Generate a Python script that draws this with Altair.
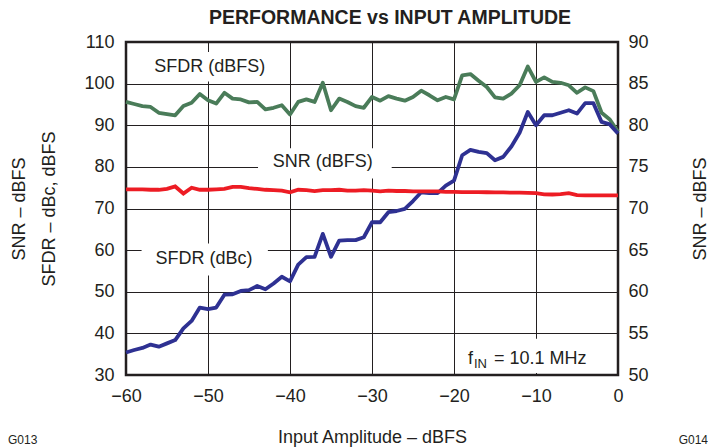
import altair as alt
import pandas as pd

# ---------------- data ----------------
amplitude = list(range(-60, 1))  # input amplitude, dBFS (1 dB steps)

sfdr_dbfs = [95.6, 95.1, 94.6, 94.4, 93.0, 92.7, 92.4, 94.6, 95.4, 97.5,
             96.0, 95.2, 97.8, 96.4, 96.2, 95.5, 95.6, 93.8, 94.2, 94.8,
             92.6, 95.6, 96.2, 95.6, 100.2, 93.6, 96.4, 95.6, 94.6, 94.2,
             96.8, 95.9, 97.0, 96.4, 95.9, 96.8, 98.3, 97.2, 96.0, 96.8,
             96.2, 102.0, 102.3, 100.7, 99.2, 96.7, 96.4, 97.6, 99.6, 104.1,
             100.4, 101.5, 100.4, 100.2, 99.6, 97.8, 99.1, 98.2, 93.0, 91.4,
             88.4]

sfdr_dbc = [35.4, 36.0, 36.5, 37.3, 36.8, 37.6, 38.4, 41.2, 43.0, 46.2,
            45.8, 46.2, 49.3, 49.4, 50.2, 50.4, 51.4, 50.6, 52.0, 53.6,
            52.5, 56.5, 58.3, 58.4, 63.9, 58.4, 62.3, 62.4, 62.4, 63.1,
            66.7, 66.7, 69.1, 69.4, 69.9, 71.8, 73.9, 73.7, 73.7, 75.5,
            76.7, 82.8, 84.1, 83.6, 83.3, 81.6, 82.4, 84.9, 88.2, 93.2,
            90.0, 92.4, 92.4, 93.0, 93.6, 92.8, 95.3, 95.3, 90.8, 90.2,
            88.0]

snr_dbfs = [72.3, 72.3, 72.3, 72.25, 72.25, 72.35, 72.65, 71.8, 72.5, 72.25,
            72.25, 72.3, 72.35, 72.6, 72.6, 72.45, 72.35, 72.25, 72.2, 72.15,
            71.95, 72.25, 72.2, 72.1, 72.2, 72.2, 72.25, 72.15, 72.15, 72.2,
            72.15, 72.05, 72.15, 72.1, 72.1, 72.05, 72.05, 72.05, 72.05, 72.0,
            72.0, 71.97, 71.97, 71.97, 71.95, 71.93, 71.93, 71.9, 71.9, 71.88,
            71.85, 71.7, 71.68, 71.72, 71.85, 71.6, 71.57, 71.57, 71.57, 71.57,
            71.57]

x_ticks = [-60, -50, -40, -30, -20, -10, 0]
left_ticks = [30, 40, 50, 60, 70, 80, 90, 100, 110]
right_ticks = [50, 55, 60, 65, 70, 75, 80, 85, 90]

# in-plot labels (left-axis units) and their white backing boxes
label_text = ["SFDR (dBFS)", "SNR (dBFS)", "SFDR (dBc)"]
label_x = [-49.8, -36.0, -50.5]
label_y = [104.1, 81.2, 57.8]
box_x1 = [-58.3, -43.9, -58.1, -19.3]
box_x2 = [-41.0, -27.6, -42.7, -2.2]
box_y1 = [107.6, 84.5, 61.6, 38.7]
box_y2 = [100.5, 77.2, 53.9, 30.5]
fin_x = [-18.3]
fin_y = [32.65]
figure_codes = ["G013", "G014"]

INK = "#231f20"
FONT = "Liberation Sans"

# ---------------- tables ----------------
lines_df = pd.DataFrame({
    "amp": amplitude * 2,
    "v": sfdr_dbfs + sfdr_dbc,
    "series": ["SFDR (dBFS)"] * len(amplitude) + ["SFDR (dBc)"] * len(amplitude),
})
snr_df = pd.DataFrame({"amp": amplitude, "snr": snr_dbfs})
labels_df = pd.DataFrame({"amp": label_x, "v": label_y, "t": label_text})
boxes_df = pd.DataFrame({"amp": box_x1, "amp2": box_x2, "v": box_y1, "v2": box_y2})
fin_df = pd.DataFrame({"amp": fin_x, "v": fin_y})

x_axis = alt.Axis(values=x_ticks, grid=True, ticks=False, domain=False,
                  labelPadding=12, labelFlush=False, title="Input Amplitude – dBFS",
                  titleX=246, titleY=62, titleBaseline="middle")
x_scale = alt.Scale(domain=[-60, 0], nice=False, zero=False)
X = alt.X("amp:Q", scale=x_scale, axis=x_axis)

left_axis = alt.Axis(values=left_ticks, grid=True, ticks=False, domain=False,
                     labelPadding=12, labelFlush=False,
                     title=["SNR – dBFS", "SFDR – dBc, dBFS"],
                     titleAngle=270, titleBaseline="middle", titleLineHeight=30,
                     titleX=-107, titleY=166.5)
left_scale = alt.Scale(domain=[30, 110], nice=False, zero=False)
Y = alt.Y("v:Q", scale=left_scale, axis=left_axis)

right_axis = alt.Axis(values=right_ticks, grid=False, ticks=False, domain=False,
                      labelPadding=10, labelFlush=False, orient="right",
                      title="SNR – dBFS",
                      titleAngle=270, titleBaseline="middle",
                      titleX=82, titleY=166.5)
right_scale = alt.Scale(domain=[50, 90], nice=False, zero=False)

boxes = alt.Chart(boxes_df).mark_rect(fill="white").encode(
    x=X, x2="amp2:Q", y=Y, y2="v2:Q")

labels = alt.Chart(labels_df).mark_text(
    font=FONT, fontSize=18, color=INK, align="center", baseline="middle"
).encode(x=X, y=Y, text="t:N")

fin_f = alt.Chart(fin_df).mark_text(
    font=FONT, fontSize=18, color=INK, align="left", baseline="alphabetic", text="f"
).encode(x=X, y=Y)
fin_sub = alt.Chart(fin_df).mark_text(
    font=FONT, fontSize=13, color=INK, align="left", baseline="alphabetic",
    text="IN", dx=6, dy=4).encode(x=X, y=Y)
fin_rest = alt.Chart(fin_df).mark_text(
    font=FONT, fontSize=18, color=INK, align="left", baseline="alphabetic",
    text="= 10.1 MHz", dx=26).encode(x=X, y=Y)

lines = alt.Chart(lines_df).mark_line(strokeWidth=3.8, strokeJoin="round").encode(
    x=X, y=Y,
    color=alt.Color("series:N", legend=None,
                    scale=alt.Scale(domain=["SFDR (dBFS)", "SFDR (dBc)"],
                                    range=["#4a7c59", "#2e3192"])),
)

code_l = alt.Chart(pd.DataFrame({"t": [figure_codes[0]]})).mark_text(
    font=FONT, fontSize=12, color=INK, baseline="alphabetic", align="left"
).encode(x=alt.value(-118), y=alt.value(402), text="t:N")
code_r = alt.Chart(pd.DataFrame({"t": [figure_codes[1]]})).mark_text(
    font=FONT, fontSize=12, color=INK, baseline="alphabetic", align="right"
).encode(x=alt.value(582), y=alt.value(402), text="t:N")

left_layer = alt.layer(boxes, labels, fin_f, fin_sub, fin_rest, lines, code_l, code_r)

snr = alt.Chart(snr_df).mark_line(strokeWidth=3.8, color="#ed1c24").encode(
    x=X, y=alt.Y("snr:Q", scale=right_scale, axis=right_axis))

chart = alt.layer(left_layer, snr).resolve_scale(y="independent").properties(
    width=492, height=333,
    autosize=alt.AutoSizeParams(type="none"),
    padding={"left": 118, "top": 34, "right": 90, "bottom": 72},
    title=alt.TitleParams("PERFORMANCE vs INPUT AMPLITUDE", font=FONT, fontSize=19.5,
                          fontWeight="bold", color=INK, anchor="middle", offset=5,
                          dx=18),
).configure_view(
    stroke=INK, strokeWidth=2.5
).configure_axis(
    labelFont=FONT, labelFontSize=18, labelColor=INK,
    titleFont=FONT, titleFontSize=18, titleColor=INK, titleFontWeight="normal",
    gridColor=INK, gridWidth=1, gridOpacity=1,
).configure_text(font=FONT)

chart.save("out.html", embed_options={"renderer": "svg", "actions": False})
